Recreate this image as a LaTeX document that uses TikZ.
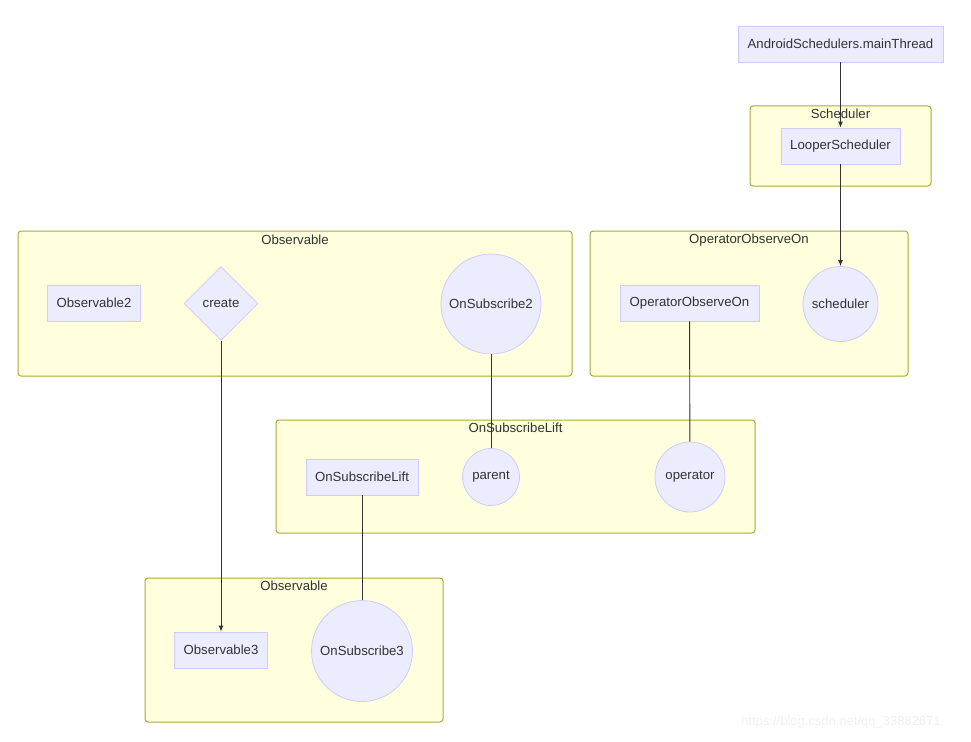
\documentclass[tikz,border=0pt]{standalone}
\usepackage{fontspec}
\setmainfont{Liberation Sans}
\usepackage{tikz}
\usetikzlibrary{positioning,shapes.geometric,arrows.meta}
\definecolor{nodefill}{HTML}{ECECFF}
\definecolor{nodeline}{HTML}{CCCCFF}
\definecolor{clusterfill}{HTML}{FFFFDE}
\definecolor{clusterline}{HTML}{AAAA33}
\definecolor{edgeline}{HTML}{333333}
\definecolor{labeltext}{HTML}{333333}

\begin{document}
\begin{tikzpicture}[x=1pt, y=-1pt, font=\fontsize{13.2}{15}\selectfont, text=labeltext]
\tikzstyle{box}=[rectangle, fill=nodefill, draw=nodeline, line width=0.8pt, minimum height=36pt, inner xsep=9pt]
\tikzstyle{main}=[circle, fill=nodefill, draw=nodeline, line width=0.8pt, inner sep=0pt]
\tikzstyle{cluster}=[rectangle, rounded corners=3pt, fill=clusterfill, draw=clusterline, line width=1pt]
\tikzstyle{clabel}=[inner sep=0pt, anchor=center]
\tikzstyle{connect}=[-{Latex[length=6pt,width=5pt]}, edgeline, line width=0.9pt]
\tikzstyle{link}=[edgeline, line width=0.9pt]
\useasboundingbox (0,0) rectangle (971,741);
% clusters
\node[cluster, minimum width=181pt, minimum height=80pt] (SchedulerGroup) at (840.5,146) {};
\node[cluster, minimum width=554pt, minimum height=145pt] (ObservableTop) at (295,303.5) {};
\node[cluster, minimum width=318pt, minimum height=145pt] (ObserveOnGroup) at (749,303.5) {};
\node[cluster, minimum width=479pt, minimum height=113pt] (LiftGroup) at (515.5,476.5) {};
\node[cluster, minimum width=298pt, minimum height=144pt] (ObservableBottom) at (294,650) {};
\node[clabel] at (840.5,114) {Scheduler};
\node[clabel] at (295,240) {Observable};
\node[clabel] at (749,240) {OperatorObserveOn};
\node[clabel] at (515.5,428) {OnSubscribeLift};
\node[clabel] at (294,586) {Observable};
% nodes
\node[box, minimum width=205pt] (MainThread) at (840.5,44) {AndroidSchedulers.mainThread};
\node[box, minimum width=119pt] (Looper) at (840.5,146) {LooperScheduler};
\node[box, minimum width=92pt] (ObsTwo) at (94,303) {Observable2};
\node[diamond, fill=nodefill, draw=nodeline, line width=0.8pt, minimum width=74pt, minimum height=74pt, inner sep=0pt] (Create) at (221,303.5) {create};
\node[main, minimum size=100pt] (SubTwo) at (491,304) {OnSubscribe2};
\node[box, minimum width=139pt] (ObserveOn) at (689.5,303) {OperatorObserveOn};
\node[main, minimum size=75pt] (Sched) at (840.5,304) {scheduler};
\node[box, minimum width=112pt] (Lift) at (362,477) {OnSubscribeLift};
\node[main, minimum size=57pt] (Parent) at (491,477) {parent};
\node[main, minimum size=70pt] (Operator) at (690,477) {operator};
\node[box, minimum width=92pt] (ObsThree) at (221,650) {Observable3};
\node[main, minimum size=101pt] (SubThree) at (362,651) {OnSubscribe3};
\node[text=black!6, font=\fontsize{13}{15}\selectfont] (Mark) at (841,722) {https://blog.csdn.net/qq\_33882671};
  \path (MainThread) edge [connect] (Looper)
  	(Looper) edge [connect] (Sched)
  	(Create) edge [connect] (ObsThree)
  	(SubTwo) edge [link] (Parent)
  	(ObserveOn) edge [link] (Operator)
  	(Lift) edge [link] (SubThree);
\end{tikzpicture}
\end{document}
